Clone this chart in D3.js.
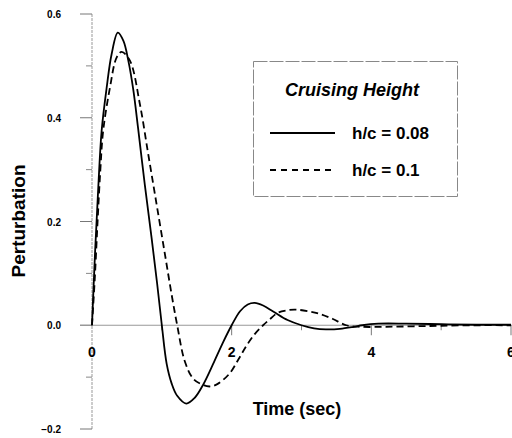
<!DOCTYPE html>
<html>
<head>
<meta charset="utf-8">
<script src="https://cdn.jsdelivr.net/npm/d3@7"></script>
<style>
  body { margin: 0; background: #fff; }
  svg { display: block; font-family: Arial, "Liberation Sans", sans-serif; font-weight: bold; }
</style>
</head>
<body>
<svg width="512" height="438"></svg>
<script>
// values: time (sec) and perturbation
var tSolid = [0, 0.043, 0.09, 0.138, 0.21, 0.28, 0.37, 0.45, 0.52, 0.59, 0.66, 0.757, 0.852, 0.933, 1.0, 1.07, 1.14, 1.22, 1.35, 1.47, 1.59, 1.75, 1.88, 2.0, 2.12, 2.23, 2.33, 2.45, 2.6, 2.8, 3.0, 3.18, 3.35, 3.55, 3.75, 3.87, 4.1, 4.5, 5.0, 5.5, 6.0];
var ySolid = [0, 0.138, 0.266, 0.375, 0.458, 0.522, 0.564, 0.548, 0.51, 0.455, 0.38, 0.27, 0.17, 0.08, 0, -0.075, -0.112, -0.136, -0.151, -0.14, -0.115, -0.07, -0.032, 0, 0.027, 0.04, 0.043, 0.038, 0.026, 0.01, 0, -0.006, -0.008, -0.007, -0.003, 0, 0.003, 0.003, 0.002, 0.001, 0.001];

var tDashed = [0, 0.04, 0.08, 0.119, 0.16, 0.257, 0.352, 0.424, 0.543, 0.686, 0.805, 0.924, 1.043, 1.138, 1.22, 1.33, 1.45, 1.59, 1.69, 1.8, 1.97, 2.1, 2.21, 2.33, 2.45, 2.55, 2.66, 2.8, 2.92, 3.1, 3.26, 3.45, 3.64, 3.85, 4.2, 4.6, 5.0, 5.5, 6.0];
var yDashed = [0, 0.09, 0.2, 0.298, 0.375, 0.458, 0.516, 0.527, 0.51, 0.426, 0.33, 0.234, 0.138, 0.061, 0, -0.07, -0.103, -0.115, -0.118, -0.113, -0.093, -0.065, -0.04, -0.017, 0, 0.012, 0.024, 0.029, 0.03, 0.027, 0.022, 0.012, 0, -0.003, -0.003, -0.002, -0.001, 0, 0];

var xTicks = [0, 2, 4, 6];
var xMinor = [1, 3, 5];
var yTicks = [-0.2, 0, 0.2, 0.4, 0.6];
var yMinor = [-0.1, 0.1, 0.3, 0.5];

var seriesNames = ["h/c = 0.08", "h/c = 0.1"];
var legendTitle = "Cruising Height";

var svg = d3.select("svg");

var x = d3.scaleLinear().domain([0, 6]).range([92, 511]);
var y = d3.scaleLinear().domain([-0.2, 0.6]).range([429, 14]);

var axisColor = "#999";

// y axis: faint dotted line with ticks to the left
svg.append("line")
  .attr("x1", x(0)).attr("x2", x(0))
  .attr("y1", y(0.6)).attr("y2", y(-0.2))
  .attr("stroke", axisColor).attr("stroke-width", 1)
  .attr("stroke-dasharray", "3,1");

svg.selectAll(".ytick").data(yTicks).enter().append("line")
  .attr("x1", x(0) - 12).attr("x2", x(0))
  .attr("y1", d => y(d)).attr("y2", d => y(d))
  .attr("stroke", "#777");

svg.selectAll(".yminor").data(yMinor).enter().append("line")
  .attr("x1", x(0) - 6).attr("x2", x(0))
  .attr("y1", d => y(d)).attr("y2", d => y(d))
  .attr("stroke", "#888");

svg.selectAll(".ylab").data(yTicks).enter().append("text")
  .attr("x", 61)
  .attr("y", d => y(d) + 4)
  .attr("text-anchor", "end")
  .style("font-size", "10px")
  .text(d => d3.format(".1f")(d));

// x axis along zero
svg.append("line")
  .attr("x1", 80).attr("x2", 512)
  .attr("y1", y(0)).attr("y2", y(0))
  .attr("stroke", axisColor).attr("stroke-width", 1.2);

svg.selectAll(".xtick").data(xTicks.filter(d => d > 0)).enter().append("line")
  .attr("x1", d => x(d)).attr("x2", d => x(d))
  .attr("y1", y(0)).attr("y2", y(0) + 10)
  .attr("stroke", "#777");

svg.selectAll(".xminor").data(xMinor).enter().append("line")
  .attr("x1", d => x(d)).attr("x2", d => x(d))
  .attr("y1", y(0)).attr("y2", y(0) + 5)
  .attr("stroke", "#888");

svg.selectAll(".xlab").data(xTicks).enter().append("text")
  .attr("x", d => x(d))
  .attr("y", y(0) + 32)
  .attr("text-anchor", "middle")
  .style("font-size", "14px")
  .text(d => d);

// axis titles
svg.append("text")
  .attr("x", 297).attr("y", 415)
  .attr("text-anchor", "middle")
  .style("font-size", "18px")
  .text("Time (sec)");

svg.append("text")
  .attr("transform", "translate(25,221) rotate(-90)")
  .attr("text-anchor", "middle")
  .style("font-size", "19px")
  .text("Perturbation");

// curves
var line = d3.line()
  .x(d => x(d[0]))
  .y(d => y(d[1]))
  .curve(d3.curveCatmullRom.alpha(0.5));

svg.append("path")
  .datum(d3.zip(tSolid, ySolid))
  .attr("d", line)
  .attr("fill", "none")
  .attr("stroke", "#000")
  .attr("stroke-width", 1.8);

svg.append("path")
  .datum(d3.zip(tDashed, yDashed))
  .attr("d", line)
  .attr("fill", "none")
  .attr("stroke", "#000")
  .attr("stroke-width", 1.8)
  .attr("stroke-dasharray", "7,4");

// legend
var lg = svg.append("g");
lg.append("rect")
  .attr("x", 253.5).attr("y", 61.5)
  .attr("width", 204).attr("height", 135)
  .attr("fill", "none")
  .attr("stroke", "#888")
  .attr("stroke-width", 1)
  .attr("stroke-dasharray", "14,2");

lg.append("text")
  .attr("x", 352).attr("y", 96)
  .attr("text-anchor", "middle")
  .style("font-size", "18px")
  .style("font-style", "italic")
  .text(legendTitle);

var dashes = [null, "6,5"];
var rowsY = [133, 170];
seriesNames.forEach(function (name, i) {
  lg.append("line")
    .attr("x1", 270).attr("x2", 335)
    .attr("y1", rowsY[i]).attr("y2", rowsY[i])
    .attr("stroke", "#000")
    .attr("stroke-width", 1.8)
    .attr("stroke-dasharray", dashes[i]);
  lg.append("text")
    .attr("x", 352).attr("y", rowsY[i] + 6)
    .style("font-size", "17px")
    .text(name);
});
</script>
</body>
</html>
